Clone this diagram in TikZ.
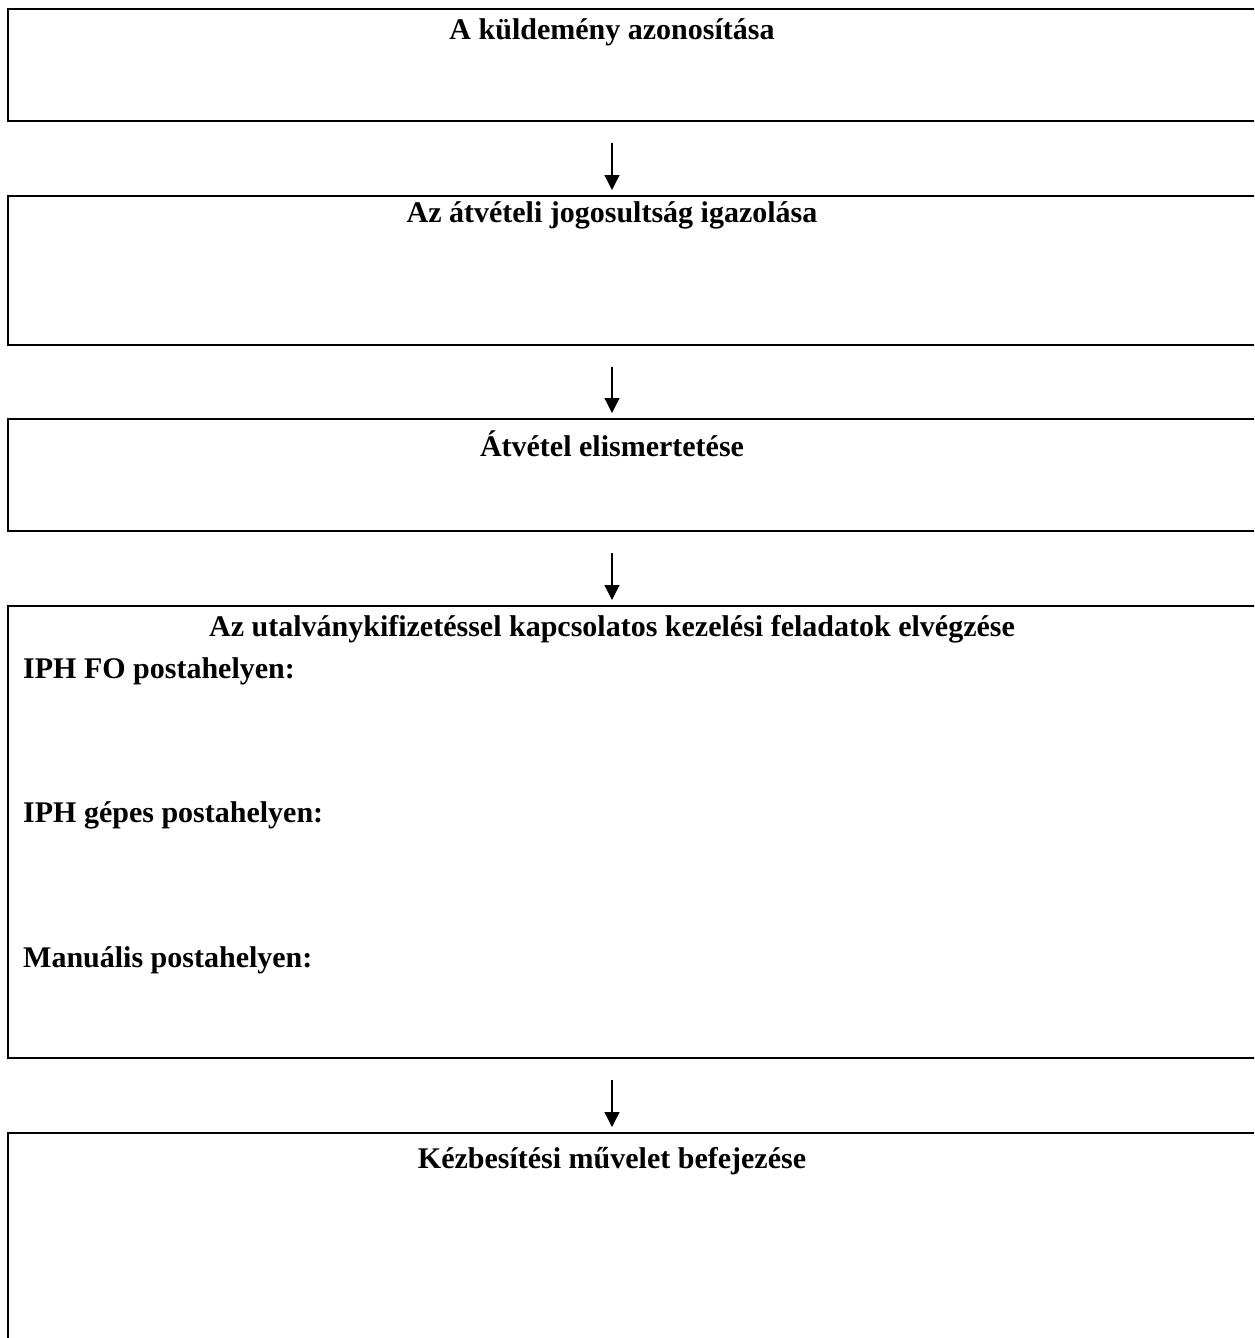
\documentclass[tikz,border=0pt]{standalone}
\usepackage{fontspec}
\setmainfont{Liberation Serif}
\usetikzlibrary{arrows.meta}
\tikzset{
  frame/.style={draw=black, line width=2.6pt, line join=miter},
  ttl/.style={anchor=base, font=\fontsize{30}{35}\selectfont\bfseries, inner sep=0pt},
  lbl/.style={anchor=base west, font=\fontsize{30}{35}\selectfont\bfseries, inner sep=0pt},
  flow/.style={draw=black, line width=1.3pt, -{Triangle[length=15pt,width=15pt]}},
}
\begin{document}
\begin{tikzpicture}[x=1pt,y=-1pt]
\useasboundingbox (0,0) rectangle (1254,1338);
\clip (0,0) rectangle (1254,1338);
% boxes (right side runs off the page)
\draw[frame] (1300,9) -- (8,9) -- (8,121) -- (1300,121);
\draw[frame] (1300,196) -- (8,196) -- (8,345) -- (1300,345);
\draw[frame] (1300,419) -- (8,419) -- (8,531) -- (1300,531);
\draw[frame] (1300,606) -- (8,606) -- (8,1058) -- (1300,1058);
\draw[frame] (1300,1133) -- (8,1133) -- (8,1400);
% titles
\node[ttl] (t1) at (612,40) {A küldemény azonosítása};
\node[ttl] (t2) at (612,222) {Az átvételi jogosultság igazolása};
\node[ttl] (t3) at (612,456) {Átvétel elismertetése};
\node[ttl] (t4) at (612,636) {Az utalványkifizetéssel kapcsolatos kezelési feladatok elvégzése};
\node[lbl] (l1) at (23,678) {IPH FO postahelyen:};
\node[lbl] (l2) at (23,822) {IPH gépes postahelyen:};
\node[lbl] (l3) at (23,967) {Manuális postahelyen:};
\node[ttl] (t5) at (612,1168) {Kézbesítési művelet befejezése};
% arrows
\coordinate (a1s) at (612,143); \coordinate (a1e) at (612,190);
\coordinate (a2s) at (612,367); \coordinate (a2e) at (612,413);
\coordinate (a3s) at (612,553); \coordinate (a3e) at (612,600);
\coordinate (a4s) at (612,1080); \coordinate (a4e) at (612,1127);
\draw[flow] (a1s) -- (a1e);
\draw[flow] (a2s) -- (a2e);
\draw[flow] (a3s) -- (a3e);
\draw[flow] (a4s) -- (a4e);
\end{tikzpicture}
\end{document}
